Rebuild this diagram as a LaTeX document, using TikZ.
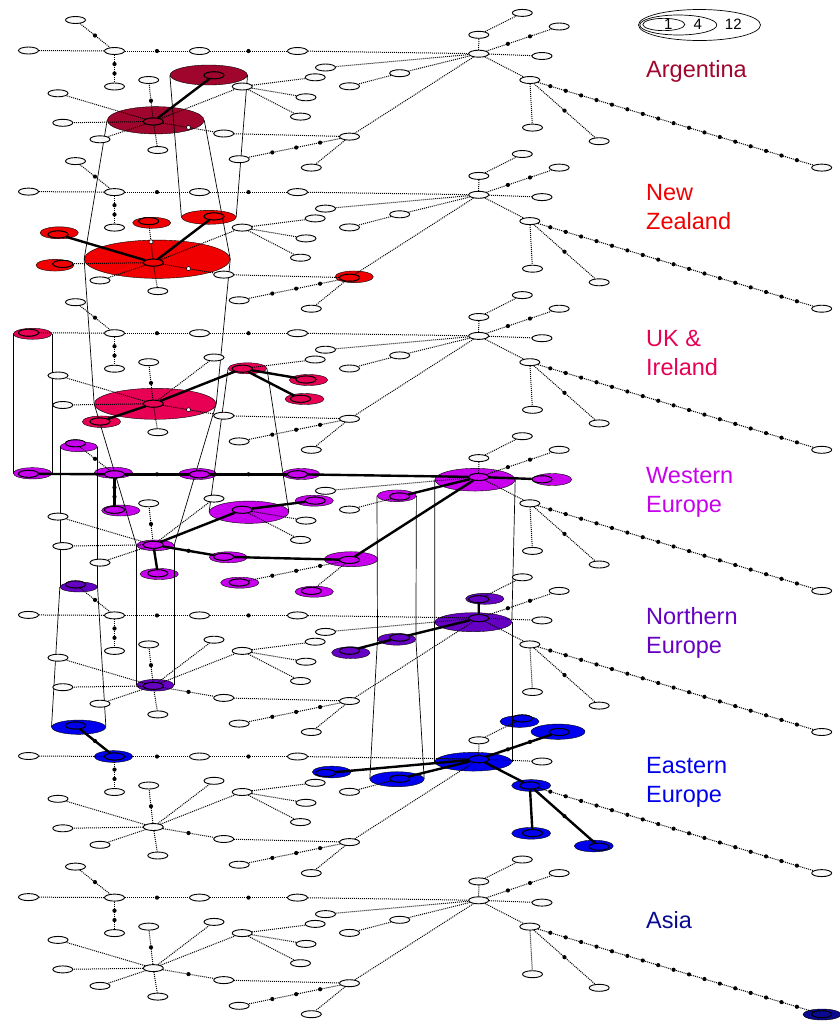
\documentclass[tikz,border=0pt]{standalone}
\usepackage{fontspec}
\setmainfont{Liberation Sans}
\usetikzlibrary{shapes.geometric,backgrounds,calc}
\definecolor{argc}{RGB}{160,5,45}
\definecolor{nzc}{RGB}{240,0,0}
\definecolor{ukc}{RGB}{232,0,85}
\definecolor{wec}{RGB}{200,0,238}
\definecolor{nec}{RGB}{102,0,195}
\definecolor{eec}{RGB}{0,0,238}
\definecolor{asc}{RGB}{10,10,145}

\begin{document}
\begin{tikzpicture}[x=1pt,y=-1pt,
  hap/.style={draw,ellipse,line width=.9pt,fill=gray!5,inner sep=0pt,minimum width=20pt,minimum height=7pt},
  pop/.style={draw,ellipse,line width=.4pt,inner sep=0pt},
  mut/.style={circle,fill=black,inner sep=0pt,minimum size=4.2pt},
  nul/.style={circle,draw,fill=white,line width=.5pt,inner sep=0pt,minimum size=4pt},
  lnk/.style={line width=1pt,dash pattern=on 1pt off 1pt},
  hit/.style={line width=2.4pt},
  cyl/.style={line width=.7pt},
  lab/.style={anchor=west,align=left,inner sep=0pt,font=\fontsize{23.5}{29}\selectfont},
  key/.style={draw,ellipse,line width=.7pt,inner sep=0pt},
  num/.style={inner sep=0pt,font=\fontsize{15}{18}\selectfont}
]
\useasboundingbox (0,0) rectangle (840,1021);
\foreach \ly in {0,...,6}{
  \pgfmathsetmacro\dy{141.1*\ly}
  \foreach \n/\x/\y in {1/75.5/20, 2/28.5/50.5, 3/114.5/51, 4/199.5/51, 5/297.5/51, 6/114.5/86.5,
      7/153.3/121.5, 8/58/93.3, 9/62.8/122.8, 10/100/139.3, 11/157.8/150, 12/148.7/80,
      13/214/75.3, 14/242.2/86.5, 15/315.2/77.3, 16/306/97.3, 17/300.5/116.6, 18/223.7/133.5,
      19/349.5/136.6, 20/239.2/159.2, 21/311.3/167.6, 22/325.5/67.5, 23/399.7/73.2, 24/349.5/86.3,
      25/478.7/53.7, 26/478.8/34.8, 27/522.3/12.9, 28/559.2/26.5, 29/542/56, 30/529.8/80,
      31/532.5/127.6, 32/599.2/141.2, 33/821.7/167.6}
    \node[hap] (h\n-\ly) at (\x,\y+\dy) {};
  \foreach \ha/\hb in {2/3, 5/25, 22/25, 23/25, 23/24, 25/19, 19/18, 19/21, 7/8, 7/9, 7/10, 7/11,
      7/13, 7/14, 14/15, 14/16, 14/17, 25/26, 26/27, 25/29, 25/30, 30/31, 30/33}
    \draw[lnk] (h\ha-\ly) -- (h\hb-\ly);
  \foreach \ha/\hb in {1/3, 3/4, 4/5, 7/12, 7/18, 30/32}
    \draw[lnk] (h\ha-\ly) -- node[mut](d\ha-\hb-\ly){} (h\hb-\ly);
  \foreach \ha/\hb in {3/6, 25/28}
    \draw[lnk] (h\ha-\ly) -- node[mut,pos=.33](d\ha-\hb-\ly){} node[mut,pos=.67](e\ha-\hb-\ly){} (h\hb-\ly);
  \draw[lnk] (h19-\ly) -- node[mut,pos=.22](d19-20-\ly){} node[mut,pos=.48](e19-20-\ly){}
    node[mut,pos=.74](f19-20-\ly){} (h20-\ly);
  \foreach \p in {1,...,17}
    \node[mut] (c\p-\ly) at ($(h30-\ly)!{0.0175+0.0528*\p}!(h33-\ly)$) {};
}
\foreach \d in {d7-18-0, d7-12-1, d7-18-1, d7-18-2}
  \node[nul] (w\d) at (\d) {};

\foreach \n/\ly/\col/\x/\y/\w/\hh in {
    7/0/argc/155.7/120.3/96.7/27.3, 13/0/argc/208.7/75/77.3/20,
    7/1/nzc/157.2/259.2/145.7/38.3, 13/1/nzc/208.8/217.3/54.3/14, 12/1/nzc/151.7/222.8/38/11,
    8/1/nzc/59.2/232.8/38.3/12, 9/1/nzc/55/265.2/38/11.7, 19/1/nzc/354.2/276.8/38.3/11.7,
    2/2/ukc/32.5/333.8/38.4/11, 7/2/ukc/155.2/403.8/121.7/31, 10/2/ukc/101.5/421.7/38.4/11.5,
    14/2/ukc/247.5/368.3/38.4/11, 16/2/ukc/308.5/380/38.4/11, 17/2/ukc/304.5/399/39/11,
    2/3/wec/32.5/473.3/38.4/11.3, 1/3/wec/78.7/446.7/37.3/10, 3/3/wec/113.5/472.7/38.4/11,
    4/3/wec/197.7/474/38/11, 5/3/wec/301.3/474/37.3/11, 6/3/wec/120.8/510.5/38.3/11,
    7/3/wec/155.3/545.3/37.3/10.7, 11/3/wec/159.2/574/38.3/11, 14/3/wec/249/512.2/79.4/22.3,
    15/3/wec/314.2/500.7/38.3/11, 18/3/wec/228.3/557.3/38/11, 19/3/wec/351/559.2/53.4/15,
    20/3/wec/239.8/582.7/38.3/11, 21/3/wec/314.2/591.7/38.3/11, 23/3/wec/396.7/495.8/39/11.7,
    25/3/wec/475/479.7/80/22.7, 29/3/wec/552.2/479.5/39/12,
    1/4/nec/78.7/587/37.3/10, 7/4/nec/155.3/685.2/37.3/11.7, 24/4/nec/350.8/652.7/38.3/11.7,
    23/4/nec/396.7/639.3/38/11.7, 25/4/nec/473.3/622.2/76.7/19, 26/4/nec/484.8/598.8/38.3/11,
    1/5/eec/78.7/727.2/54/14.3, 3/5/eec/113.5/756.5/38.4/11.7, 22/5/eec/331.7/772/38.7/11.7,
    23/5/eec/397/779.2/54/15, 25/5/eec/473.3/761.7/76.7/18.7, 27/5/eec/519.5/721.5/39/11.7,
    28/5/eec/558/731.7/54/15.3, 30/5/eec/531.2/785.5/39/11.7, 31/5/eec/531.2/833.3/39/11.7,
    32/5/eec/593.8/846/39/11.7,
    33/6/asc/822/1014.5/38/11}{
  \begin{scope}[on background layer]
    \node[pop,fill=\col,minimum width=\w pt,minimum height=\hh pt] (o\n-\ly) at (\x,\y) {};
  \end{scope}
  \node[hap,fill=\col] (h\n-\ly) at (h\n-\ly) {};
}

\begin{scope}[on background layer]
\foreach \n/\ha/\hb in {7/0/1, 13/0/1, 7/1/2, 7/2/3, 14/2/3, 2/2/3, 1/3/4, 7/3/4, 23/3/4, 25/3/4,
    1/4/5, 23/4/5, 25/4/5}{
  \draw[cyl] (o\n-\ha.west) -- (o\n-\hb.west);
  \draw[cyl] (o\n-\ha.east) -- (o\n-\hb.east);
}
\end{scope}

\foreach \ly/\ha/\hb in {0/7/13, 1/7/13, 1/7/8, 2/7/10, 2/7/14, 2/14/16, 2/14/17,
    3/2/3, 3/3/4, 3/4/5, 3/5/25, 3/3/6, 3/7/11, 3/7/14, 3/14/15, 3/7/18, 3/18/19, 3/19/25,
    3/23/25, 3/25/29, 4/24/23, 4/23/25, 4/25/26,
    5/1/3, 5/22/25, 5/23/25, 5/25/28, 5/25/30, 5/30/31, 5/30/32}
  \draw[hit] (h\ha-\ly) -- (h\hb-\ly);

\node[lab,text=argc] (tag0) at (646,71) {Argentina};
\node[lab,text=nzc] (tag1) at (646,207.5) {New\\Zealand};
\node[lab,text=ukc] (tag2) at (646,352.5) {UK \&\\Ireland};
\node[lab,text=wec] (tag3) at (646,492.5) {Western\\Europe};
\node[lab,text=nec] (tag4) at (646,632.5) {Northern\\Europe};
\node[lab,text=eec] (tag5) at (646,782.5) {Eastern\\Europe};
\node[lab,text=asc] (tag6) at (646,920) {Asia};

\node[key,minimum width=122pt,minimum height=31pt] (k12) at (699.5,25) {};
\node[key,minimum width=77pt,minimum height=20pt] (k4) at (678.3,25) {};
\node[key,minimum width=42pt,minimum height=12.3pt] (k1) at (663.8,24.5) {};
\node[num] (n1) at (668.3,24) {1};
\node[num] (n4) at (697.7,24) {4};
\node[num] (n12) at (733.3,24) {12};
\end{tikzpicture}
\end{document}
